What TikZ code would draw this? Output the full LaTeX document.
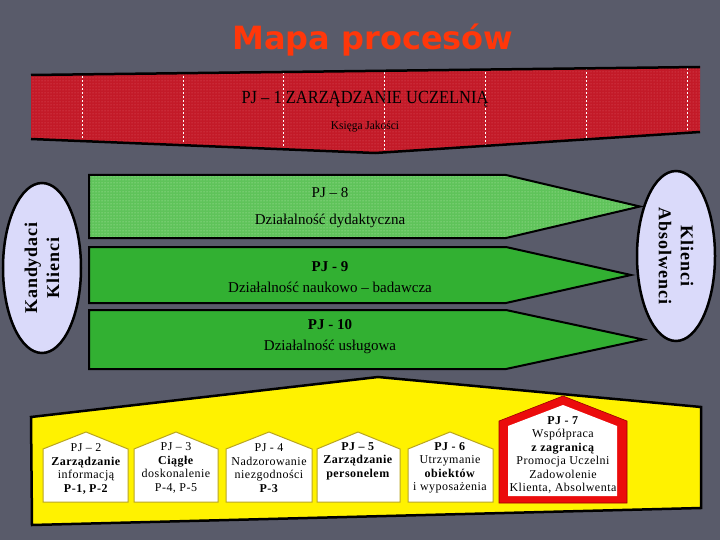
\documentclass[tikz,border=0pt]{standalone}
\usepackage{fontspec}
\usepackage{graphicx}
\setmainfont{Liberation Serif}
\newfontfamily\titlefont{DejaVu Sans}
\newfontfamily\housefont[LetterSpace=4]{Liberation Serif}
\newfontfamily\clientfont[LetterSpace=5]{Liberation Serif}
\usetikzlibrary{shapes.geometric,patterns}
\definecolor{slide}{RGB}{89,91,106}
\definecolor{titlered}{RGB}{255,55,10}
\definecolor{bandred}{RGB}{195,26,40}
\definecolor{dotred}{RGB}{225,95,105}
\definecolor{bandgreen}{RGB}{50,176,50}
\definecolor{litegreen}{RGB}{95,195,90}
\definecolor{dotgreen}{RGB}{190,235,180}
\definecolor{clientfill}{RGB}{218,218,250}
\definecolor{houseedge}{RGB}{185,165,30}
\definecolor{roofred}{RGB}{235,12,12}
\begin{document}
\begin{tikzpicture}[x=1pt, y=-1pt,
    band/.style={draw=black, line width=2pt, fill=bandgreen},
    house/.style={fill=white, draw=houseedge, line width=1pt},
    client/.style={ellipse, draw=black, line width=2.5pt, fill=clientfill, minimum width=170pt, minimum height=78pt, inner sep=0pt, align=center, font=\clientfont\bfseries\fontsize{18}{22}\selectfont},
    bandtext/.style={align=center, font=\fontsize{15}{21}\selectfont},
    housetext/.style={align=center, font=\housefont\fontsize{12}{13.5}\selectfont}]
    \fill[slide] (0,0) rectangle (720,540);
    \useasboundingbox (0,0) rectangle (720,540);

    \node[anchor=base, text=titlered, font=\titlefont\bfseries\fontsize{32}{36}\selectfont] (title) at (373,50) {Mapa procesów};

    \fill[bandred] (31,75) -- (700,67) -- (700,132) -- (375,153) -- (31,139) -- cycle;
    \fill[pattern=dots, pattern color=dotred] (31,75) -- (700,67) -- (700,132) -- (375,153) -- (31,139) -- cycle;
    \begin{scope}
        \clip (31,75) -- (700,67) -- (700,132) -- (375,153) -- (31,139) -- cycle;
        \draw[white, line width=0.8pt, dash pattern=on 2pt off 2pt] (82,60) -- (82,160) (183,60) -- (183,160) (283,60) -- (283,160) (384,60) -- (384,160) (485,60) -- (485,160) (586,60) -- (586,160) (687,60) -- (687,160);
    \end{scope}
    \draw[line width=2.5pt] (31,75) -- (700,67);
    \draw[line width=2.5pt] (31,139) -- (375,153) -- (700,132);
    \node[anchor=base, font=\fontsize{18.5}{20}\selectfont] (pj1) at (365,104) {\scalebox{0.89}[1]{PJ – 1 ZARZĄDZANIE UCZELNIĄ}};
    \node[anchor=base, font=\fontsize{12}{14}\selectfont] (book) at (365,130) {\scalebox{0.95}[1]{Księga Jakości}};

    \draw[band, preaction={fill=litegreen}, pattern=dots, pattern color=dotgreen] (89,175) -- (506,175) -- (640,206.5) -- (506,238) -- (89,238) -- cycle;
    \draw[band] (89,247) -- (506,247) -- (631,275) -- (506,303) -- (89,303) -- cycle;
    \draw[band] (89,310) -- (506,310) -- (643,339.5) -- (506,369) -- (89,369) -- cycle;
    \node[bandtext] (pj8) at (330,208) {PJ – 8\\[6pt]Działalność dydaktyczna};
    \node[bandtext] (pj9) at (330,277) {\textbf{PJ - 9}\\Działalność naukowo – badawcza};
    \node[bandtext] (pj10) at (330,337) {\textbf{PJ - 10}\\Działalność usługowa};

    \node[client, rotate=90] (kandydaci) at (42,268) {Kandydaci\\Klienci};
    \node[client, rotate=-90] (absolwenci) at (676,256) {Klienci\\Absolwenci};

    \draw[line width=2.5pt, fill=yellow] (31,417) -- (378,377) -- (701,407) -- (701,508) -- (32,525) -- cycle;

    \draw[house] (43,449) -- (86,432) -- (128,449) -- (128,502) -- (43,502) -- cycle;
    \draw[house] (134,449) -- (176,432) -- (218,449) -- (218,502) -- (134,502) -- cycle;
    \draw[house] (226,449) -- (269,432) -- (312,449) -- (312,502) -- (226,502) -- cycle;
    \draw[house] (317,449) -- (358,432) -- (400,449) -- (400,502) -- (317,502) -- cycle;
    \draw[house] (408,449) -- (450,432) -- (493,449) -- (493,502) -- (408,502) -- cycle;
    \draw[fill=roofred, draw=red!60!black, line width=0.6pt] (499,421) -- (563,396) -- (627,421) -- (627,503) -- (499,503) -- cycle;
    \fill[white] (508,426) -- (563,405) -- (617,426) -- (617,496) -- (508,496) -- cycle;

    \node[housetext] (pj2) at (86,469) {PJ – 2\\\textbf{Zarządzanie}\\informacją\\\textbf{P-1, P-2}};
    \node[housetext] (pj3) at (176,468) {PJ – 3\\\textbf{Ciągłe}\\doskonalenie\\P-4, P-5};
    \node[housetext] (pj4) at (269,468) {PJ - 4\\Nadzorowanie\\niezgodności\\\textbf{P-3}};
    \node[housetext] (pj5) at (358,461) {\textbf{PJ – 5}\\\textbf{Zarządzanie}\\\textbf{personelem}};
    \node[housetext] (pj6) at (450,468) {\textbf{PJ - 6}\\Utrzymanie\\\textbf{obiektów}\\i wyposażenia};
    \node[housetext] (pj7) at (563,455) {\textbf{PJ - 7}\\Współpraca\\\textbf{z zagranicą}\\Promocja Uczelni\\Zadowolenie\\Klienta, Absolwenta};
\end{tikzpicture}
\end{document}
